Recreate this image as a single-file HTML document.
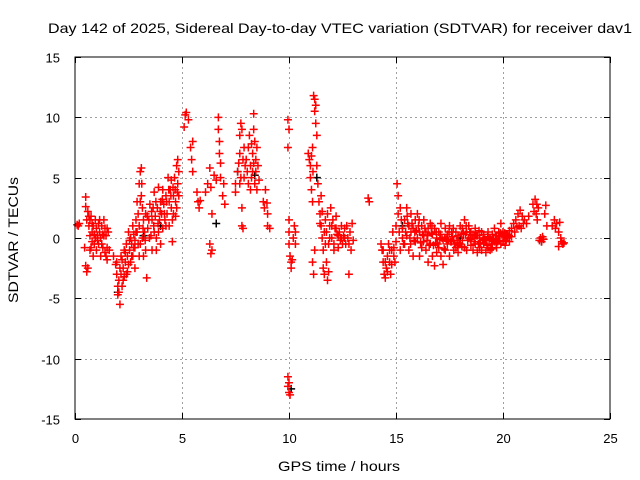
<!DOCTYPE html>
<html><head><meta charset="utf-8"><style>
html,body{margin:0;padding:0;background:#fff;}
svg{display:block;font-family:"Liberation Sans",sans-serif;}
</style></head><body>
<svg id="chart" width="640" height="480" viewBox="0 0 640 480">
<rect x="0" y="0" width="640" height="480" fill="#fff"/>
<text x="340" y="33" font-size="14" text-anchor="middle" textLength="584" lengthAdjust="spacingAndGlyphs">Day 142 of 2025, Sidereal Day-to-day VTEC variation (SDTVAR) for receiver dav1</text>
<text x="339" y="471" font-size="14" text-anchor="middle" textLength="122" lengthAdjust="spacingAndGlyphs">GPS time / hours</text>
<text transform="translate(18,240) rotate(-90)" font-size="14" text-anchor="middle" textLength="126" lengthAdjust="spacingAndGlyphs">SDTVAR / TECUs</text>
<g id="grid"></g>
<g id="ticks"></g>
<g id="marks"></g>
<rect x="75" y="57" width="535" height="362" fill="none" stroke="#000" stroke-width="1"/>
</svg>
<script>
const xTicks=[0,5,10,15,20,25];
const xTickLabels=["0","5","10","15","20","25"];
const yTicks=[-15,-10,-5,0,5,10,15];
const yTickLabels=["-15","-10","-5","0","5","10","15"];
const redTimes=[];
const redValues=[];
const redPairs=[
[0.1,1.1],[0.15,1.0],[0.2,1.2],[0.45,-0.8],[0.5,3.4],[0.5,2.6],[0.55,1.5],[0.5,-2.3],[0.55,-2.8],[0.6,-2.5],[0.6,2.2],[0.65,1.8],[0.7,1.5],[0.75,1.8],[0.8,1.2],[0.8,0.5],[0.85,1.0],[0.9,0.3],[0.9,-0.5],[0.95,1.5],[1.0,0.8],[1.0,-1.0],[1.05,0.2],[1.1,1.2],[1.1,-0.5],[1.15,0.5],[1.2,0],[1.2,-1.5],[1.25,1.0],[1.3,0.3],[1.3,-0.8],[1.35,1.5],[1.4,0.8],[1.4,-1.2],[1.45,0.2],[1.5,-0.8],[1.5,-1.8],[1.55,0.5],[0.7,0.2],[0.75,-0.8],[0.85,-1.5],[0.7,-1.0],
[0.65,1.0],[0.8,-0.3],[0.95,0.0],[1.05,-0.2],[1.15,1.5],[1.25,-0.5],[1.35,0.2],[1.45,-1.5],[1.5,0.8],[1.6,-1.0],
[1.8,-1.5],[1.9,-2.2],[1.95,-3.0],[2.0,-4.0],[2.0,-4.7],[2.05,-3.5],[2.1,-2.5],[2.1,-5.5],[2.15,-3.0],[2.2,-1.8],[2.2,-4.0],[2.25,-2.5],[2.3,-3.2],[2.3,-1.0],[2.35,-2.0],[2.4,-0.5],[2.4,-3.0],[2.45,-1.5],[2.5,-2.2],[2.5,0.5],[2.55,-1.0],[2.6,-2.0],[2.6,0.0],[2.65,-0.5],[2.7,-1.5],[2.7,1.0],[2.75,0.3],[2.8,-0.8],[2.8,-2.5],[2.85,1.5],[2.9,0.5],[2.9,3.0],[2.95,2.0],[3.0,4.5],[3.0,1.0],[3.05,5.5],[3.05,-0.5],[3.1,5.8],[3.1,3.5],[3.15,2.5],[3.15,0.0],[3.2,1.5],[3.2,-1.5],[3.25,0.5],[3.3,-1.0],[3.3,2.0],[3.35,-3.3],[3.4,0.8],[3.45,1.5],[3.5,2.8],[3.55,0.2],[3.6,1.5],[3.6,-1.0],[3.65,2.5],[3.7,3.8],[3.7,0.5],[3.75,1.8],[3.8,-1.0],[3.85,2.5],[3.9,4.2],[3.9,0.5],[3.95,1.5],[4.0,3.0],[4.0,-0.5],[4.05,2.0],[4.1,4.0],[4.1,0.8],[4.15,2.8],[4.2,1.5],[4.25,3.5],[4.3,2.0],[4.35,5.0],[4.4,3.0],[4.4,1.0],[4.45,4.0],[4.5,2.5],[4.5,4.8],[4.55,1.5],[4.6,3.5],[4.6,2.0],[4.65,5.0],[4.7,3.0],[4.75,6.0],[4.75,2.5],[4.8,4.5],[4.8,6.5],[4.85,3.5],[4.55,-0.3],[3.0,-1.5],[2.8,-0.2],
[1.95,-2.0],[2.05,-4.5],[2.15,-1.5],[2.25,-3.5],[2.35,-1.2],[2.45,-2.8],[2.55,-0.2],[2.65,-1.5],[2.75,-0.8],[2.85,0.5],[2.95,-0.5],[3.05,3.0],[3.12,4.5],[3.18,0.8],[3.28,-0.2],[3.38,1.8],[3.48,0.0],[3.58,2.2],[3.68,1.0],[3.78,3.0],[3.88,1.2],[3.98,2.2],[4.08,3.2],[4.18,2.0],[4.28,3.0],[4.38,4.0],[4.48,3.5],[4.58,4.2],[4.68,4.0],[4.78,3.8],[4.85,5.5],[4.7,1.8],[4.25,1.0],[3.8,0.0],
[5.15,10.2],[5.2,10.4],[5.1,9.2],[5.3,9.8],[5.4,7.5],[5.45,6.5],[5.5,5.5],[5.5,8.0],[5.7,3.8],[5.75,3.0],[5.85,3.1],[5.8,2.5],[6.1,3.8],[6.2,4.5],[6.3,5.8],[6.35,4.2],[6.4,2.0],[6.3,-0.5],[6.35,-1.3],[6.4,-1.0],
[6.7,10.0],[6.7,9.0],[6.75,8.0],[6.75,7.0],[6.8,6.2],[6.9,3.5],[6.95,4.5],[7.0,2.8],[6.8,5.0],[6.5,5.2],[6.6,4.8],
[7.5,4.5],[7.5,3.8],[7.6,5.5],[7.7,7.0],[7.7,8.5],[7.75,9.5],[7.8,9.0],[7.85,6.5],[7.9,5.0],[7.95,6.0],[7.7,4.5],[7.8,2.5],[7.8,1.0],[7.85,0.8],[8.0,6.5],[8.1,7.5],[8.15,8.5],[8.2,6.0],[8.25,5.0],[8.3,7.0],[8.35,10.3],[8.35,9.0],[8.4,8.0],[8.45,6.5],[8.5,7.5],[8.55,6.0],[8.6,4.8],[8.3,5.5],[8.4,4.5],[8.2,4.0],
[7.65,6.2],[7.75,5.0],[7.9,7.5],[8.05,5.5],[8.1,4.5],[8.25,7.8],[8.35,6.2],[8.45,5.5],[8.5,4.0],
[8.8,3.0],[8.85,2.5],[8.9,4.0],[9.0,2.0],[9.0,1.0],[9.1,0.8],[8.97,2.9],
[9.95,9.8],[10.0,9.0],[9.95,7.5],[10.0,1.5],[10.0,0.5],[10.0,-0.5],[10.05,-1.5],[10.1,-2.0],[10.1,-2.5],[10.15,-1.8],[10.2,0.0],[10.25,1.0],[10.3,0.5],[10.3,-0.5],[9.95,-11.5],[9.95,-12.3],[10.0,-12.8],[10.05,-13.0],[10.0,-12.0],
[10.9,7.0],[10.95,6.5],[11.0,6.0],[11.0,5.0],[11.05,4.0],[11.1,7.5],[11.1,3.0],[11.15,11.8],[11.2,11.5],[11.2,10.5],[11.25,11.0],[11.25,9.5],[11.3,8.5],[11.3,6.0],[11.35,4.5],[11.4,3.0],[11.45,2.0],[11.5,1.0],[11.5,3.5],[11.55,0.0],[11.6,-1.0],[11.6,-2.5],[11.65,-3.0],[11.1,-2.0],[11.15,-3.0],[11.2,-1.0],[11.7,1.5],[11.75,0.5],[11.8,2.0],[11.85,-0.5],[11.9,1.0],[11.95,2.5],[12.0,0.0],[12.05,1.5],[12.1,-0.5],[12.15,0.8],[12.2,1.8],[12.25,0.3],[12.3,-0.8],[12.35,0.5],[12.4,-0.2],[12.45,1.0],[12.5,-0.5],[12.55,0.2],[12.6,0.0],[12.7,1.0],[12.75,0.0],[12.8,-0.5],[12.85,0.5],[12.9,-1.0],[12.95,1.2],[13.0,-0.2],[12.1,-1.0],[12.8,-3.0],[11.75,-2.0],[11.8,-3.5],[11.85,-2.8],
[11.05,6.8],[11.12,5.5],[11.45,1.2],[11.55,2.2],[11.65,0.5],[11.7,-0.5],[11.9,0.0],[12.0,1.0],[12.2,0.8],[12.3,0.2],[12.45,0.0],[12.6,0.8],[12.65,-0.5],
[13.7,3.3],[13.75,3.0],
[14.3,-0.5],[14.35,-1.0],[14.4,-2.0],[14.45,-3.0],[14.5,-3.3],[14.55,-2.5],[14.6,-1.5],[14.65,-0.5],[14.7,-2.0],[14.75,-3.0],[14.8,-1.0],[14.85,0.5],[14.9,-0.8],[14.95,-2.0],[15.0,1.0],[15.05,4.5],[15.1,3.5],[15.1,2.0],[15.15,0.5],[15.2,-1.0],[15.25,1.5],[15.3,0.0],
[14.4,-1.0],[14.5,-2.0],[14.6,-2.8],[14.7,-1.0],[14.8,-2.2],[14.9,-1.5],[15.0,-0.3],[15.2,2.5],[15.3,0.8],[15.35,-0.5],
[15.4,1.5],[15.4,-0.5],[15.45,0.5],[15.5,2.5],[15.5,0.2],[15.55,1.2],[15.6,1.0],[15.6,-1.0],[15.65,0.0],[15.7,2.0],[15.7,0.5],[15.75,1.2],[15.8,0.8],[15.8,-1.5],[15.85,-0.2],[15.9,1.5],[15.9,-0.3],[15.95,0.6],[16.0,2.0],[16.0,0.0],[16.05,1.0],[16.1,0.5],[16.1,-1.5],[16.15,-0.4],[16.2,1.0],[16.2,-0.8],[16.25,0.3],[16.3,1.5],[16.3,0.2],[16.35,0.8],[16.4,0.5],[16.4,-1.0],[16.45,-0.2],[16.5,0.8],[16.5,-2.0],[16.55,-0.6],[16.6,1.2],[16.6,-0.5],[16.65,0.4],[16.7,0.3],[16.7,-1.5],[16.75,-0.6],[16.8,0.8],[16.8,-2.3],[16.85,-0.4],[16.9,0.0],[16.9,-1.2],[16.95,-0.5],[17.0,0.5],[17.0,-0.8],[17.05,-0.1],[17.1,1.2],[17.1,-1.5],[17.15,0.0],[17.2,-0.2],[17.2,-2.2],[17.25,-0.9],[17.3,0.8],[17.3,-1.0],[17.35,-0.1],[17.4,0.3],[17.4,-0.5],[17.45,-0.2],[17.5,1.0],[17.5,-1.5],[17.55,-0.3],[17.6,0.5],[17.6,-0.3],[17.65,0.1],[17.7,-0.2],[17.7,-1.0],[17.75,-0.5],[17.8,0.5],[17.8,-0.8],[17.85,-0.2],[17.9,0.2],[17.9,-1.2],[17.95,-0.4],[18.0,1.0],[18.0,-0.5],[18.05,0.3],[18.1,0.8],[18.1,-0.2],[18.15,0.4],[18.2,1.5],[18.2,-0.8],[18.25,0.3],[18.3,0.5],[18.3,-1.0],[18.35,-0.2],[18.4,1.0],[18.4,0.0],[18.45,0.5],[18.5,0.5],[18.5,-0.6],[18.55,0.0],[18.6,0.3],[18.6,-1.0],[18.65,-0.3],[18.7,0.8],[18.7,-0.5],[18.75,0.2],[18.8,0.2],[18.8,-1.2],[18.85,-0.5],[18.9,0.0],[18.9,-0.8],[18.95,-0.4],[19.0,0.5],[19.0,-1.0],[19.05,-0.2],[19.1,0.3],[19.1,-0.5],[19.15,-0.1],[19.2,-0.2],[19.2,-1.2],[19.25,-0.6],[19.3,0.5],[19.3,-0.8],[19.35,-0.1],[19.4,0.0],[19.4,-1.0],[19.45,-0.5],[19.5,0.3],[19.5,-0.5],[19.55,-0.1],[19.6,0.8],[19.6,-0.3],[19.65,0.2],[19.7,0.2],[19.7,-0.8],[19.75,-0.3],[19.8,0.5],[19.8,-0.2],[19.85,0.1],[19.9,1.2],[19.9,-0.5],[19.95,0.3],[20.0,0.5],[20.0,-0.3],[20.05,0.1],[20.1,0.2],[20.1,-0.6],[20.15,-0.2],[20.2,0.3],[20.2,0.0],[20.3,0.6],[20.3,-0.3],[20.4,0.8],[20.4,0.1],
[15.52,1.8],[15.68,-0.5],[15.88,0.5],[16.08,1.5],[16.28,-0.3],[16.48,0.2],[16.68,1.0],[16.88,0.5],[17.08,0.3],[17.28,0.0],[17.48,0.5],[17.68,0.8],[17.88,-0.6],[18.08,-0.7],[18.28,1.0],[18.48,-0.1],[18.68,0.2],[18.88,0.6],[19.08,0.0],[19.28,0.1],[19.48,-0.9],[19.68,-0.4],[19.88,0.4],[20.08,0.4],[20.28,0.2],
[20.5,1.2],[20.6,1.5],[20.7,2.0],[20.75,1.0],[20.8,2.3],[20.85,0.8],[20.9,1.8],[21.0,1.5],[21.1,1.2],[21.2,1.8],[21.4,2.8],[21.5,3.2],[21.55,2.0],[21.6,1.5],[21.65,2.5],[21.7,-0.2],[21.8,-0.3],[21.9,-0.1],[21.95,2.0],[22.0,2.7],[22.05,1.0],
[20.55,0.5],[20.65,0.9],[20.95,1.2],[21.45,2.2],[21.58,2.8],[21.75,0.0],[21.85,0.1],
[22.3,1.0],[22.4,1.5],[22.45,0.8],[22.5,1.2],[22.6,0.5],[22.65,1.3],[22.7,0.0],[22.75,-0.3],[22.8,-0.5],[22.85,-0.4],[22.6,-0.7]
];
const blackPairs=[[2.0,-4.5],[4.0,1.0],[6.6,1.2],[7.6,5.5],[10.1,-12.5],[11.3,5.0],[14.5,-2.0],[15.3,1.0],[18.0,0.0],[21.8,-0.3],[3.2,0.2],[8.4,5.2]];
for(const p of redPairs){redTimes.push(p[0]);redValues.push(p[1]);}

const NS="http://www.w3.org/2000/svg";
const X0=75,X1=610,Y0=419,Y1=57;
function xScale(t){return X0+(t-0)/(25-0)*(X1-X0);}
function yScale(v){return Y0-(v+15)/30*(Y0-Y1);}
const grid=document.getElementById('grid'),ticks=document.getElementById('ticks'),marks=document.getElementById('marks');
function line(g,x1,y1,x2,y2,stroke,dash){const l=document.createElementNS(NS,'line');l.setAttribute('x1',x1);l.setAttribute('y1',y1);l.setAttribute('x2',x2);l.setAttribute('y2',y2);l.setAttribute('stroke',stroke);l.setAttribute('stroke-width',1);if(dash)l.setAttribute('stroke-dasharray',dash);g.appendChild(l);return l;}
xTicks.forEach((t,i)=>{const x=Math.round(xScale(t))+0.5;
 if(t>0&&t<25){const gl=line(grid,x,Y1,x,Y0,'#a0a0a0','2,3');}
 line(ticks,x,Y0,x,Y0-6,'#000');line(ticks,x,Y1,x,Y1+6,'#000');
 const tx=document.createElementNS(NS,'text');tx.setAttribute('x',x);tx.setAttribute('y',443);tx.setAttribute('font-size','13');tx.setAttribute('text-anchor','middle');tx.textContent=xTickLabels[i];
 
 
 ticks.appendChild(tx);});
yTicks.forEach((v,i)=>{const y=Math.round(yScale(v))+0.5;
 if(v>-15&&v<15){const gl=line(grid,X0,y,X1,y,'#a0a0a0','2,3');}
 line(ticks,X0,y,X0+6,y,'#000');line(ticks,X1,y,X1-6,y,'#000');
 const tx=document.createElementNS(NS,'text');tx.setAttribute('x',60);tx.setAttribute('y',y+5);tx.setAttribute('font-size','13');tx.setAttribute('text-anchor','end');tx.textContent=yTickLabels[i];
 
 
 ticks.appendChild(tx);});
function cross(t,v,color){const x=xScale(t),y=yScale(v);const p=document.createElementNS(NS,'path');
 p.setAttribute('d','M'+(x-4)+' '+y+'H'+(x+4)+'M'+x+' '+(y-4)+'V'+(y+4));
 p.setAttribute('stroke',color);p.setAttribute('stroke-width','1.5');p.setAttribute('fill','none');
 
 
 marks.appendChild(p);}
blackPairs.forEach(p=>cross(p[0],p[1],'#000'));
for(let i=0;i<redTimes.length;i++)cross(redTimes[i],redValues[i],'#ff0000');
</script>
</body></html>
